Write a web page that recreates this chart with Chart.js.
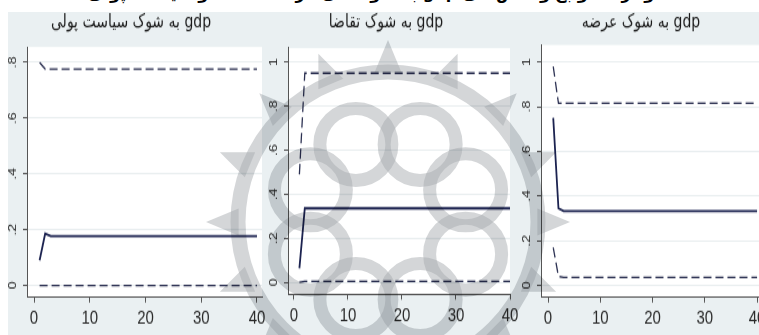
<!DOCTYPE html>
<html>
<head>
<meta charset="utf-8">
<script src="https://cdn.jsdelivr.net/npm/chart.js@4.4.1/dist/chart.umd.min.js"></script>
<style>
  body { margin:0; width:759px; height:335px; overflow:hidden; background:#fff; position:relative; }
  #bg { position:absolute; left:8px; top:12px; right:0; bottom:0; background:#eaf0f2; }
  #caption { position:absolute; left:0; width:759px; top:-16px; text-align:center; direction:rtl;
    font:bold 16px "DejaVu Sans", sans-serif; color:#000; white-space:nowrap; }
  canvas.panel { position:absolute; top:0; transform-origin:0 0; }
  #seal { position:absolute; left:0; top:0; mix-blend-mode:multiply; pointer-events:none; }
</style>
</head>
<body>
<div id="bg"></div>
<div id="caption">نمودار ۳- توابع واکنش آنی gdp به شوک‌های عرضه، تقاضا و سیاست پولی</div>
<canvas class="panel" id="monetary"></canvas>
<canvas class="panel" id="demand"></canvas>
<canvas class="panel" id="supply"></canvas>
<canvas id="seal"></canvas>
<script>
// horizon of the impulse responses (line breaks only at the first steps, flat afterwards)
const steps = [1, 2, 3, 40]

// gdp response to monetary policy shock
const monetaryIrf = [0.09, 0.186, 0.177, 0.177]
const monetaryUpper = [0.80, 0.776, 0.776, 0.776]
const monetaryLower = [0, 0, 0, 0]

// gdp response to demand shock
const demandIrf = [0.064, 0.336, 0.336, 0.336]
const demandUpper = [0.49, 0.95, 0.95, 0.95]
const demandLower = [0, 0.005, 0.005, 0.005]

// gdp response to supply shock
const supplyIrf = [0.75, 0.345, 0.332, 0.332]
const supplyUpper = [0.98, 0.815, 0.815, 0.815]
const supplyLower = [0.17, 0.04, 0.036, 0.036]

const xTicks = [0, 10, 20, 30, 40]
const yTicksMonetary = [0, 0.2, 0.4, 0.6, 0.8]
const yTicksOther = [0, 0.2, 0.4, 0.6, 0.8, 1]

// the panels are drawn short and stretched tall, which gives the narrow tall lettering
const SY = 1.3
const H = Math.round(335 / SY)

const fmt = v => String(Math.round(v * 10) / 10).replace(/^0\./, '.')

const plotBg = {
  id: 'plotBg',
  beforeDraw(chart) {
    const a = chart.chartArea
    chart.ctx.save()
    chart.ctx.fillStyle = '#ffffff'
    chart.ctx.fillRect(a.left, a.top, a.right - a.left, a.bottom - a.top)
    chart.ctx.restore()
  }
}

function panel(id, left, width, yw, top, xh, title, irf, upper, lower, xr, yr, yTicks)
{
  const el = document.getElementById(id)
  el.width = width
  el.height = H
  el.style.left = left + 'px'
  el.style.transform = 'scaleY(' + SY + ')'
  const titleTop = 9
  const dashed = data => ({
    data: steps.map((s, i) => ({x: s, y: data[i]})),
    borderColor: '#2c3152',
    borderWidth: 1.3,
    borderDash: [8, 4],
    pointRadius: 0,
    tension: 0
  })
  return new Chart(el, {
    type: 'line',
    data: {
      datasets: [
        dashed(upper),
        dashed(lower),
        {
          data: steps.map((s, i) => ({x: s, y: irf[i]})),
          borderColor: '#1c2350',
          borderWidth: 1.8,
          pointRadius: 0,
          tension: 0
        }
      ]
    },
    options: {
      responsive: false,
      animation: false,
      layout: { padding: { left: 0, right: yw, top: 0, bottom: 0 } },
      plugins: {
        legend: { display: false },
        tooltip: { enabled: false },
        title: {
          display: true,
          text: '\u202B' + title + '\u202C',
          color: '#1a1a1a',
          font: { family: '"DejaVu Sans", sans-serif', size: 14, weight: 'normal', lineHeight: 1.2 },
          padding: { top: titleTop, bottom: top / SY - titleTop - 16.8 }
        }
      },
      scales: {
        x: {
          type: 'linear',
          min: xr[0],
          max: xr[1],
          afterBuildTicks: s => { s.ticks = xTicks.map(v => ({value: v})) },
          afterFit: s => { s.height = xh / SY },
          grid: { drawOnChartArea: false, tickLength: 4, tickColor: '#555' },
          border: { color: '#555', width: 1 },
          ticks: {
            color: '#2a2a2a',
            padding: 3,
            maxRotation: 0,
            font: { family: '"Liberation Sans", sans-serif', size: 15 }
          }
        },
        y: {
          min: yr[0],
          max: yr[1],
          afterBuildTicks: s => { s.ticks = yTicks.map(v => ({value: v})) },
          afterFit: s => { s.width = yw },
          grid: { color: '#e9eef0', tickLength: 4, tickColor: '#555' },
          border: { color: '#555', width: 1 },
          ticks: {
            color: '#2a2a2a',
            padding: 5,
            minRotation: 90,
            maxRotation: 90,
            crossAlign: 'center',
            callback: v => fmt(v),
            font: { family: '"Liberation Sans", sans-serif', size: 11 }
          }
        }
      }
    },
    plugins: [plotBg]
  })
}

panel('monetary', 0, 289, 27, 47, 38, 'gdp به شوک سیاست پولی',
  monetaryIrf, monetaryUpper, monetaryLower, [-1.26, 40.9], [-0.043, 0.855], yTicksMonetary)
panel('demand', 262, 274, 26, 48, 41, 'gdp به شوک تقاضا',
  demandIrf, demandUpper, demandLower, [-1.11, 40], [-0.055, 1.064], yTicksOther)
panel('supply', 515, 278, 26, 45, 38, 'gdp به شوک عرضه',
  supplyIrf, supplyUpper, supplyLower, [-1.34, 41.9], [-0.054, 1.076], yTicksOther)

// faint rosette seal printed across the middle of the figure
const seal = document.getElementById('seal')
seal.width = 759
seal.height = 335
const g = seal.getContext('2d')
const cx = 388, cy = 222
g.strokeStyle = 'rgba(170,174,178,0.5)'
g.fillStyle = 'rgba(170,174,178,0.5)'
g.lineWidth = 15
g.beginPath()
g.arc(cx, cy, 150, 0, Math.PI * 2)
g.stroke()
g.lineWidth = 13
for (let k = 0; k < 8; k++) {
  const a = k * Math.PI / 4 + Math.PI / 8
  g.beginPath()
  g.arc(cx + 84 * Math.cos(a), cy + 84 * Math.sin(a), 36, 0, Math.PI * 2)
  g.stroke()
}
for (let k = 0; k < 16; k++) {
  const a = k * Math.PI / 8
  const w = 0.09
  g.beginPath()
  g.moveTo(cx + 150 * Math.cos(a - w), cy + 150 * Math.sin(a - w))
  g.lineTo(cx + 182 * Math.cos(a), cy + 182 * Math.sin(a))
  g.lineTo(cx + 150 * Math.cos(a + w), cy + 150 * Math.sin(a + w))
  g.closePath()
  g.fill()
}
</script>
</body>
</html>
